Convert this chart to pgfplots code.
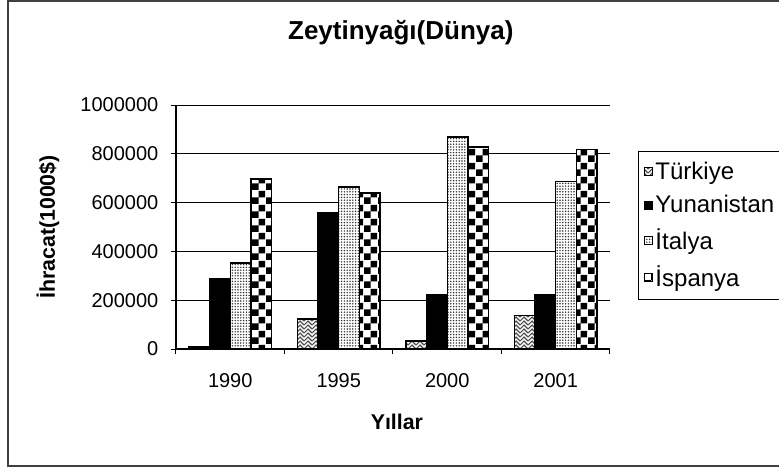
\documentclass[border=0pt]{standalone}
\usepackage{fontspec}
\setmainfont{Liberation Sans}
\usepackage{pgfplots}
\usepackage{pgfplotstable}
\pgfplotsset{compat=1.18}
\usetikzlibrary{patterns}

\pgfdeclarepatternformonly{checker}{\pgfpointorigin}{\pgfpoint{10.5pt}{10.5pt}}{\pgfpoint{10.5pt}{10.5pt}}{%
 \pgfpathrectangle{\pgfpointorigin}{\pgfpoint{5.25pt}{5.25pt}}%
 \pgfpathrectangle{\pgfpoint{5.25pt}{5.25pt}}{\pgfpoint{5.25pt}{5.25pt}}%
 \pgfusepath{fill}}
\pgfdeclarepatternformonly{weave}{\pgfpoint{-1pt}{-1pt}}{\pgfpoint{7pt}{7pt}}{\pgfpoint{6pt}{6pt}}{%
 \pgfsetlinewidth{0.8pt}%
 \pgfpathmoveto{\pgfpoint{0pt}{0pt}}\pgfpathlineto{\pgfpoint{3pt}{3pt}}\pgfpathlineto{\pgfpoint{6pt}{0pt}}%
 \pgfpathmoveto{\pgfpoint{0pt}{3pt}}\pgfpathlineto{\pgfpoint{3pt}{6pt}}\pgfpathlineto{\pgfpoint{6pt}{3pt}}%
 \pgfusepath{stroke}}
\pgfdeclarepatternformonly{fdots}{\pgfpoint{-0.7pt}{-0.7pt}}{\pgfpoint{0.7pt}{0.7pt}}{\pgfpoint{2.1pt}{2.1pt}}{%
 \pgfpathcircle{\pgfpointorigin}{0.62pt}\pgfusepath{fill}}

\pgfplotstableread{
x tur yun ita isp
0 8000 288000 352000 697000
1 123000 557000 663000 639000
2 33000 223000 868000 828000
3 137000 223000 687000 818000
}\data

\begin{document}
\begin{tikzpicture}
\useasboundingbox (0pt,0pt) rectangle (584.25pt,351.75pt);
\clip (0pt,0pt) rectangle (584.25pt,351.75pt);
\draw[line width=1pt, black!75] (6pt,2.25pt) rectangle (600pt,351pt);
\begin{axis}[
 at={(132pt,90pt)}, anchor=south west, scale only axis,
 width=325.5pt, height=183pt,
 ybar=0pt, bar width=15.5pt,
 xmin=-0.5, xmax=3.5, ymin=0, ymax=1000000,
 scaled y ticks=false,
 xtick={0,1,2,3}, xticklabels={1990,1995,2000,2001},
 minor xtick={-0.5,0.5,1.5,2.5,3.5},
 ytick={0,200000,400000,600000,800000,1000000},
 yticklabels={0,200000,400000,600000,800000,1000000},
 axis x line*=bottom, axis y line*=left,
 tick align=outside, major tick length=3.75pt, minor tick length=3.75pt,
 major x tick style={draw=none},
 tick style={black, line width=0.75pt},
 axis line style={line width=0.9pt},
 ymajorgrids, grid style={black, line width=0.75pt},
 ticklabel style={font=\fontsize{15}{18}\selectfont},
 yticklabel style={xshift=-6pt},
 xticklabel style={yshift=-11.25pt},
 title={Zeytinyağı(Dünya)},
 title style={at={(0.518,1.262)}, anchor=center, font=\bfseries\fontsize{19.5}{23}\selectfont},
 xlabel={Yıllar},
 xlabel style={at={(0.509,-0.299)}, anchor=center, font=\bfseries\fontsize{16}{19}\selectfont},
 ylabel={İhracat(1000\$)},
 ylabel style={at={(-0.295,0.5)}, anchor=center, rotate=0, font=\bfseries\fontsize{16}{19}\selectfont},
 legend style={at={(1.0645,0.8115)}, anchor=north west, draw=black, line width=0.75pt,
   font=\fontsize{18}{21}\selectfont, row sep=6.5pt, inner ysep=6pt, inner xsep=4pt},
 legend cell align=left,
 legend image code/.code={\draw[#1, line width=0.75pt] (0pt,-3pt) rectangle (6pt,3pt);},
]
\addplot[draw=black, line width=1.1pt, fill=white, postaction={pattern=weave, pattern color=black!70}] table[x=x,y=tur]{\data};
\addplot[draw=black, line width=1.1pt, fill=black] table[x=x,y=yun]{\data};
\addplot[draw=black, line width=1.1pt, fill=white, postaction={pattern=fdots, pattern color=black!80}] table[x=x,y=ita]{\data};
\addplot[draw=black, line width=1.1pt, fill=white, postaction={pattern=checker, pattern color=black}] table[x=x,y=isp]{\data};
\legend{Türkiye,Yunanistan,İtalya,İspanya}
\end{axis}
\end{tikzpicture}
\end{document}
